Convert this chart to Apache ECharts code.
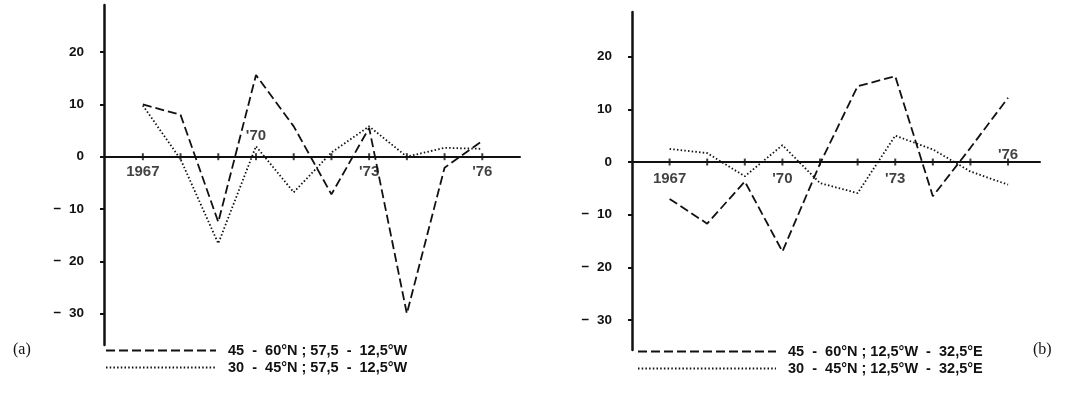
<!DOCTYPE html>
<html>
<head>
<meta charset="utf-8">
<script src="https://cdn.jsdelivr.net/npm/echarts@6/dist/echarts.min.js"></script>
<style>
html,body{margin:0;padding:0;background:#fff;}
#c{width:1091px;height:403px;}
</style>
</head>
<body>
<div id="c"></div>
<script>
// ---- data ----
const years = [1967, 1968, 1969, 1970, 1971, 1972, 1973, 1974, 1975, 1976];
const yTicks = [-30, -20, -10, 0, 10, 20];
// panel (a): 57,5 - 12,5°W
const aNorth = [10, 8, -12.5, 15.6, 5.8, -7.2, 5.5, -30, -2.1, 3];
const aSouth = [9.8, -0.5, -16.6, 2, -6.8, 0.8, 5.8, 0, 1.7, 1.5];
// panel (b): 12,5°W - 32,5°E
const bNorth = [-7, -11.7, -3.7, -17, -0.3, 14.4, 16.3, -6.5, 2.7, 12.2];
const bSouth = [2.5, 1.7, -2.7, 3.2, -4, -5.9, 5, 2.4, -1.8, -4.3];
const names = [
  '45  -  60°N ; 57,5  -  12,5°W',
  '30  -  45°N ; 57,5  -  12,5°W',
  '45  -  60°N ; 12,5°W  -  32,5°E',
  '30  -  45°N ; 12,5°W  -  32,5°E'
];
const aLabelsBelow = [1967, 1973, 1976];
const aLabelsAbove = [1970];
const bLabelsBelow = [1967, 1970, 1973];
const bLabelsAbove = [1976];

// ---- styling ----
const INK = '#111';
const FONT = 'Liberation Sans';
const yearFmt = v => (Math.round(v) === 1967 ? '1967' : "'" + String(Math.round(v)).slice(2));
const yFmt = v => (v < 0 ? '\u2212  ' + Math.abs(v) : String(v));
const pair = arr => years.map((y, i) => [y, arr[i]]);
const dashed = { type: [9, 4], width: 1.8, color: INK };
const dotted = { type: [1.5, 2.2], width: 1.8, color: INK };
const labelStyle = { color: INK, fontFamily: FONT, fontWeight: 'bold', fontSize: 13.5 };
const yearStyle = { color: INK, fontFamily: FONT, fontWeight: 'bold', fontSize: 15 };
const legendStyle = { color: INK, fontFamily: FONT, fontWeight: 'bold', fontSize: 14.5 };

function xAxis(gi, min, max) {
  return {
    gridIndex: gi, type: 'value', min: min, max: max, position: 'bottom',
    axisLine: { show: true, onZero: true, lineStyle: { color: INK, width: 2 } },
    axisTick: { show: false },
    axisLabel: { show: false },
    splitLine: { show: false }
  };
}
function yAxis(gi, min, max) {
  return {
    gridIndex: gi, type: 'value', min: min, max: max, position: 'left',
    axisLine: { show: true, onZero: false, lineStyle: { color: INK, width: 2.5 } },
    axisTick: { show: true, customValues: yTicks, length: 4, lineStyle: { color: INK, width: 2 } },
    axisLabel: Object.assign({ customValues: yTicks, formatter: yFmt, margin: 20 }, labelStyle),
    splitLine: { show: false }
  };
}
// year tick marks on the zero line, with year labels above or below
function yearTicks(xi, yi, below, above, dBelow, dAbove) {
  return {
    type: 'scatter', xAxisIndex: xi, yAxisIndex: yi, silent: true,
    symbol: 'rect', symbolSize: [2, 7], itemStyle: { color: INK }, z: 5,
    data: years.map(y => {
      const item = { value: [y, 0] };
      if (below.indexOf(y) >= 0) {
        item.label = Object.assign({ show: true, position: 'bottom', distance: dBelow, formatter: yearFmt(y) }, yearStyle);
      } else if (above.indexOf(y) >= 0) {
        item.label = Object.assign({ show: true, position: 'top', distance: dAbove, formatter: yearFmt(y) }, yearStyle);
      }
      return item;
    })
  };
}
function legend(left, top, width, data) {
  return {
    data: data, orient: 'vertical', left: left, top: top,
    itemWidth: width, itemHeight: 13, itemGap: 2,
    itemStyle: { color: 'rgba(0,0,0,0)', borderWidth: 0 },
    textStyle: Object.assign({ padding: [0, 0, 0, 7] }, legendStyle),
    selectedMode: false
  };
}

const chart = echarts.init(document.getElementById('c'), null, { renderer: 'canvas' });
chart.setOption({
  animation: false,
  backgroundColor: '#fff',
  title: [
    { text: '(a)', left: 8, top: 337, textStyle: { fontFamily: 'Liberation Serif', fontWeight: 'normal', fontSize: 16, color: INK } },
    { text: '(b)', left: 1028, top: 337, textStyle: { fontFamily: 'Liberation Serif', fontWeight: 'normal', fontSize: 16, color: INK } }
  ],
  grid: [
    { left: 104, top: 5, width: 416, height: 340, outerBoundsMode: 'none' },
    { left: 632, top: 12, width: 408, height: 338, outerBoundsMode: 'none' }
  ],
  xAxis: [xAxis(0, 1965.97, 1977), xAxis(1, 1966.0, 1976.85)],
  yAxis: [yAxis(0, -36, 29), yAxis(1, -35.7, 28.5)],
  legend: [
    legend(100, 338, 110, [names[0], names[1]]),
    legend(632, 339, 138, [names[2], names[3]])
  ],
  series: [
    { name: names[0], type: 'line', xAxisIndex: 0, yAxisIndex: 0, data: pair(aNorth), symbol: 'none', lineStyle: dashed, itemStyle: { color: INK } },
    { name: names[1], type: 'line', xAxisIndex: 0, yAxisIndex: 0, data: pair(aSouth), symbol: 'none', lineStyle: dotted, itemStyle: { color: INK } },
    { name: names[2], type: 'line', xAxisIndex: 1, yAxisIndex: 1, data: pair(bNorth), symbol: 'none', lineStyle: dashed, itemStyle: { color: INK } },
    { name: names[3], type: 'line', xAxisIndex: 1, yAxisIndex: 1, data: pair(bSouth), symbol: 'none', lineStyle: dotted, itemStyle: { color: INK } },
    yearTicks(0, 0, aLabelsBelow, aLabelsAbove, 4, 10),
    yearTicks(1, 1, bLabelsBelow, bLabelsAbove, 6, -4)
  ]
});
</script>
</body>
</html>
